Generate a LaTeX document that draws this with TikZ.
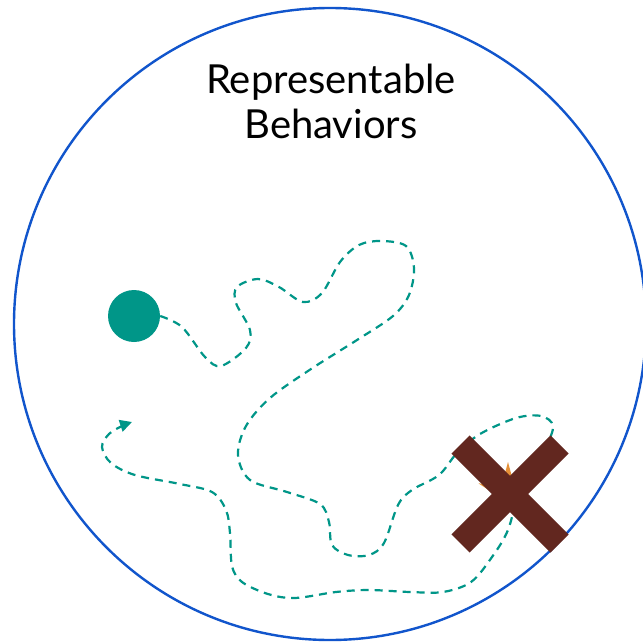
\documentclass[tikz,border=0pt]{standalone}
\usepackage{fontspec}
\setmainfont{Lato}
\usetikzlibrary{arrows.meta,shapes.geometric}
\definecolor{trajteal}{HTML}{009688}
\definecolor{ringblue}{HTML}{1155CC}
\definecolor{xbrown}{HTML}{62271F}
\definecolor{burst}{HTML}{E69138}
\tikzset{
  ring/.style={draw=ringblue, line width=2.4pt},
  titletext/.style={font=\fontsize{40}{48}\selectfont, text=black, inner sep=0pt, anchor=base},
  startdot/.style={circle, fill=trajteal, minimum size=52pt, inner sep=0pt},
  traj/.style={draw=trajteal, line width=2.2pt, dash pattern=on 8pt off 6pt,
    -{Triangle[length=12pt,width=12pt,fill=trajteal]}},
  xbar/.style={rectangle, fill=xbrown, minimum width=140pt, minimum height=25.5pt, inner sep=0pt},
  starburst/.style={star, star points=5, star point ratio=3, minimum size=62pt, fill=burst, inner sep=0pt}
}
\begin{document}
\begin{tikzpicture}[x=1pt,y=-1pt]
\useasboundingbox (0,0) rectangle (642,644);
\fill[white] (0,0) rectangle (642,644);
\draw[ring] (330,324) circle[radius=316pt];
\node[titletext] (t1) at (331,93.4) {Representable};
\node[titletext] (t2) at (331,138.5) {Behaviors};
\node[startdot] (start) at (134,316) {};
\coordinate (goal) at (132,422);
\draw[traj] plot[smooth, tension=0.55] coordinates {
  (start.east) (182,327) (205,357) (221,366) (246,348) (250,330) (236,303) (237,287) (258,279)
  (279,287) (303,302) (322,293) (340,262) (359,245) (381,241) (406,246)
  (414,268) (409,295) (393,316) (357,340) (311,369) (270,398) (246,426)
  (238,455) (250,480) (287,492) (320,504) (329,522) (332,545) (348,555)
  (369,555) (384,543) (398,505) (412,490) (439,475) (457,453) (480,434)
  (516,418) (541,416) (553,426) (545,448) (520,490) (508,530)
  (492,557) (471,582) (443,592) (410,592) (369,590) (336,592) (295,598)
  (268,594) (242,582) (232,566) (230,533) (226,510) (212,492) (180,484)
  (135,475) (111,463) (102,447) (109,434) (122,426) (goal)
};
\node[starburst] (burstnode) at (508,493) {};
\node[xbar, rotate=45] (xa) at (510,494) {};
\node[xbar, rotate=-45] (xb) at (510,494) {};
\end{tikzpicture}
\end{document}
